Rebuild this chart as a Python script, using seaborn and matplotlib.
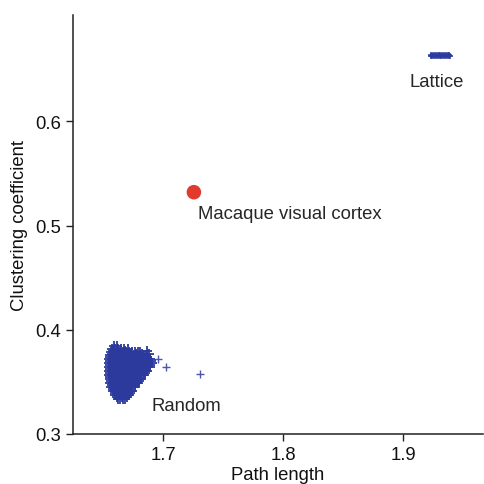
import numpy as np
import pandas as pd
import matplotlib
matplotlib.use("Agg")
import matplotlib.pyplot as plt
import seaborn as sns

# Random networks: rows of (clustering coefficient, path lengths on that row)
random_rows = [
    (0.3844, [1.6590, 1.6615]),
    (0.3815, [1.6573, 1.6598, 1.6622, 1.6648, 1.6675, 1.6705]),
    (0.3796, [1.6580, 1.6628, 1.6680, 1.6864]),
    (0.3786, [1.6564, 1.6590, 1.6615, 1.6640, 1.6665, 1.6690, 1.6715, 1.6740, 1.6768, 1.6795, 1.6806]),
    (0.3770, [1.6572, 1.6622, 1.6672, 1.6722, 1.6772, 1.6822, 1.6880]),
    (0.3757, [1.6556, 1.6580, 1.6605, 1.6630, 1.6655, 1.6680, 1.6705, 1.6730, 1.6755, 1.6780, 1.6805, 1.6830, 1.6856]),
    (0.3738, [1.6562, 1.6612, 1.6662, 1.6712, 1.6762, 1.6812, 1.6862]),
    (0.3719, [1.6548, 1.6573, 1.6598, 1.6623, 1.6648, 1.6673, 1.6698, 1.6723, 1.6748, 1.6773, 1.6798, 1.6823, 1.6848, 1.6870, 1.6889]),
    (0.3700, [1.6560, 1.6610, 1.6660, 1.6710, 1.6760, 1.6810, 1.6860, 1.6895]),
    (0.3681, [1.6548, 1.6573, 1.6598, 1.6623, 1.6648, 1.6673, 1.6698, 1.6723, 1.6748, 1.6773, 1.6798, 1.6823, 1.6848, 1.6873, 1.6906]),
    (0.3662, [1.6560, 1.6610, 1.6660, 1.6710, 1.6760, 1.6810, 1.6860, 1.6890]),
    (0.3642, [1.6548, 1.6573, 1.6598, 1.6623, 1.6648, 1.6673, 1.6698, 1.6723, 1.6748, 1.6773, 1.6798, 1.6823, 1.6848, 1.6870, 1.6889]),
    (0.3623, [1.6560, 1.6610, 1.6660, 1.6710, 1.6760, 1.6810, 1.6855]),
    (0.3604, [1.6548, 1.6573, 1.6598, 1.6623, 1.6648, 1.6673, 1.6698, 1.6723, 1.6748, 1.6773, 1.6798, 1.6823, 1.6845, 1.6864]),
    (0.3585, [1.6560, 1.6610, 1.6660, 1.6710, 1.6760, 1.6810, 1.6850]),
    (0.3566, [1.6548, 1.6573, 1.6598, 1.6623, 1.6648, 1.6673, 1.6698, 1.6723, 1.6748, 1.6773, 1.6798, 1.6820, 1.6839]),
    (0.3547, [1.6562, 1.6612, 1.6662, 1.6712, 1.6762, 1.6812]),
    (0.3527, [1.6556, 1.6580, 1.6605, 1.6630, 1.6655, 1.6680, 1.6705, 1.6730, 1.6755, 1.6780, 1.6800, 1.6814]),
    (0.3508, [1.6568, 1.6618, 1.6668, 1.6718, 1.6768, 1.6800]),
    (0.3489, [1.6556, 1.6580, 1.6605, 1.6630, 1.6655, 1.6680, 1.6705, 1.6730, 1.6755, 1.6775, 1.6789]),
    (0.3470, [1.6572, 1.6622, 1.6672, 1.6722, 1.6770]),
    (0.3451, [1.6564, 1.6588, 1.6612, 1.6637, 1.6662, 1.6687, 1.6712, 1.6737, 1.6764]),
    (0.3432, [1.6585, 1.6635, 1.6685, 1.6735]),
    (0.3412, [1.6581, 1.6605, 1.6630, 1.6655, 1.6680, 1.6705, 1.6728, 1.6739]),
    (0.3393, [1.6600, 1.6650, 1.6700, 1.6725]),
    (0.3374, [1.6598, 1.6622, 1.6647, 1.6672, 1.6695, 1.6714]),
    (0.3355, [1.6615, 1.6660, 1.6700]),
    (0.3336, [1.6622, 1.6645, 1.6665, 1.6681]),
]

# A few stray random networks to the right of the main cloud
random_extra_x = [1.6958, 1.7028, 1.7306]
random_extra_y = [0.3719, 0.3640, 0.3575]

# Lattice networks
lattice_x = [1.9225, 1.9240, 1.9255, 1.9270, 1.9285, 1.9300, 1.9315, 1.9330, 1.9345, 1.9360, 1.9375, 1.9390,
             1.9232, 1.9247, 1.9262, 1.9277, 1.9292, 1.9307, 1.9322, 1.9337, 1.9352, 1.9367, 1.9382]
lattice_y = [0.6630, 0.6629, 0.6631, 0.6630, 0.6628, 0.6630, 0.6631, 0.6629, 0.6630, 0.6631, 0.6629, 0.6630,
             0.6638, 0.6639, 0.6637, 0.6638, 0.6640, 0.6638, 0.6637, 0.6639, 0.6638, 0.6637, 0.6638]

# Macaque visual cortex
macaque_x = [1.7256]
macaque_y = [0.532]

x_ticks = [1.7, 1.8, 1.9]
y_ticks = [0.3, 0.4, 0.5, 0.6]

rand_x = [x for _, xs in random_rows for x in xs]
rand_y = [y for y, xs in random_rows for _ in xs]

df_random = pd.DataFrame({"path": rand_x, "clust": rand_y})
df_stray = pd.DataFrame({"path": random_extra_x, "clust": random_extra_y})
df_lattice = pd.DataFrame({"path": lattice_x, "clust": lattice_y})
df_macaque = pd.DataFrame({"path": macaque_x, "clust": macaque_y})

sns.set_style("ticks")
plt.rcParams["font.family"] = ["Liberation Sans", "DejaVu Sans"]

fig = plt.figure(figsize=(4.85, 4.85), dpi=100)
ax = fig.add_axes([0.1505, 0.1031, 0.845, 0.8639])

blue = "#2c3a9e"
sns.scatterplot(data=df_random, x="path", y="clust", marker="+", s=45,
                color=blue, linewidth=1.3, ax=ax, zorder=2)
sns.scatterplot(data=df_stray, x="path", y="clust", marker="+", s=28,
                color=blue, linewidth=1.0, alpha=0.85, ax=ax, zorder=2)
sns.scatterplot(data=df_lattice, x="path", y="clust", marker="+", s=25,
                color=blue, linewidth=1.1, ax=ax, zorder=2)
sns.scatterplot(data=df_macaque, x="path", y="clust", s=110,
                color="#e23b2e", edgecolor="none", ax=ax, zorder=3)

fs = 13.3
ax.text(1.6906, 0.3278, "Random", fontsize=fs, va="center", ha="left")
ax.text(1.928, 0.6385, "Lattice", fontsize=fs, va="center", ha="center")
ax.text(1.729, 0.512, "Macaque visual cortex", fontsize=fs, va="center", ha="left")

ax.set_xlim(1.625, 1.966)
ax.set_ylim(0.3, 0.702)
ax.set_xticks(x_ticks)
ax.set_yticks(y_ticks)
ax.set_xticklabels([f"{v:.1f}" for v in x_ticks])
ax.set_yticklabels([f"{v:.1f}" for v in y_ticks])
ax.tick_params(labelsize=fs, length=5, width=1, color="#222222", labelcolor="#111111")
ax.set_xlabel("Path length", fontsize=fs, labelpad=2, color="#111111")
ax.set_ylabel("Clustering coefficient", fontsize=fs, labelpad=5, color="#111111")
sns.despine(ax=ax)
for s in ("left", "bottom"):
    ax.spines[s].set_linewidth(1.1)
    ax.spines[s].set_color("#222222")

fig.savefig("out.png", dpi=100)
